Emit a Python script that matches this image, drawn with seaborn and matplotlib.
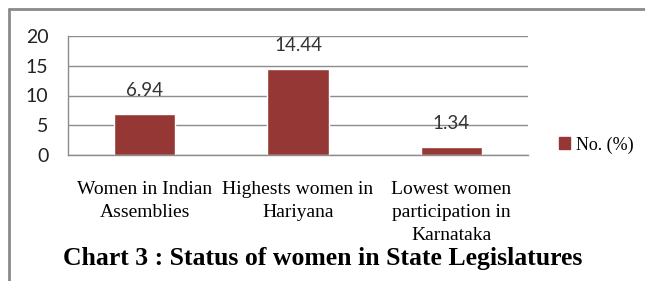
import numpy as np
import pandas as pd
import seaborn as sns
import matplotlib.pyplot as plt
from matplotlib.lines import Line2D

# values
categories = ["Women in Indian\nAssemblies", "Highests women in\nHariyana",
              "Lowest women\nparticipation in\nKarnataka"]
values = [6.94, 14.44, 1.34]
series_name = "No. (%)"
title = "Chart 3 : Status of women in State Legislatures"

bar_color = "#953735"
grid_color = "#8c8c8c"

df = pd.DataFrame({"cat": categories, "val": values, "series": series_name})

sns.set_style("white")
fig = plt.figure(figsize=(6.45, 2.81), dpi=100)
ax = fig.add_axes([68 / 645, 1 - 155 / 281, (528 - 68) / 645, (155 - 36) / 281])

sns.barplot(data=df, x="cat", y="val", hue="series", palette=[bar_color],
            width=0.4, saturation=1, ax=ax, legend=False)

ax.set_ylim(0, 20)
ax.set_xlim(-0.5, 2.5)
ax.set_yticks([0, 5, 10, 15, 20])
ax.set_yticklabels([0, 5, 10, 15, 20], fontfamily="Lato", fontsize=14, color="#222222")
ax.yaxis.grid(True, color=grid_color, linewidth=1)
ax.set_axisbelow(True)
ax.tick_params(axis="y", length=0, pad=14)

# category boundaries as tick marks, labels in the middle
ax.set_xticks([-0.5, 0.5, 1.5, 2.5])
ax.set_xticklabels([])
ax.tick_params(axis="x", which="major", length=7, color=grid_color, direction="out")
ax.set_xticks([0, 1, 2], minor=True)
ax.set_xticklabels(categories, minor=True, fontfamily="Liberation Serif",
                   fontsize=14, linespacing=1.45, color="black")
ax.tick_params(axis="x", which="minor", length=0, pad=19)

for sp in ["top", "right"]:
    ax.spines[sp].set_visible(False)
for sp in ["left", "bottom"]:
    ax.spines[sp].set_color(grid_color)
    ax.spines[sp].set_linewidth(1)
ax.set_xlabel("")
ax.set_ylabel("")

for i, v in enumerate(values):
    ax.annotate(f"{v:.2f}", (i, v), xytext=(0, 17), textcoords="offset points",
                ha="center", va="center", fontfamily="Lato", fontsize=13.5,
                color="#333333")

# legend
handle = plt.Rectangle((0, 0), 1, 1, color=bar_color)
fig.legend([handle], [series_name], loc="center left",
           bbox_to_anchor=(543 / 645, 1 - 145 / 281), frameon=False,
           prop={"family": "Liberation Serif", "size": 13},
           labelcolor="black",
           handlelength=0.6, handleheight=0.6, handletextpad=0.3)

fig.text(323 / 645, 1 - 259 / 281, title, ha="center", va="center",
         fontfamily="Liberation Serif", fontweight="bold", fontsize=18.5,
         color="black")

# outer frame (top and left edges visible)
fig.add_artist(Line2D([9 / 645, 9 / 645], [0, 1 - 9 / 281], color="#8a8a8a", linewidth=2))
fig.add_artist(Line2D([9 / 645, 1], [1 - 9 / 281, 1 - 9 / 281], color="#8a8a8a", linewidth=2))

fig.savefig("out.png", dpi=100)
